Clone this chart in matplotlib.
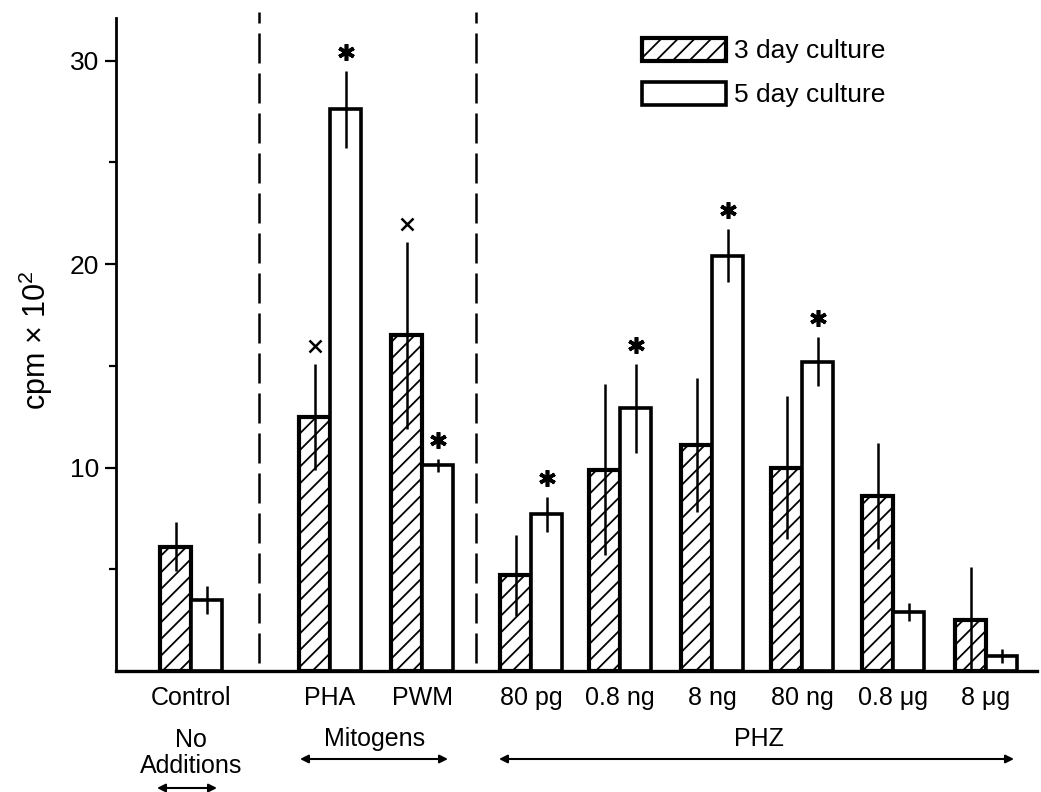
import matplotlib
matplotlib.use("Agg")
import matplotlib.pyplot as plt
from matplotlib.transforms import ScaledTranslation

plt.rcParams['font.family'] = ['Liberation Sans', 'DejaVu Sans']
plt.rcParams['hatch.linewidth'] = 1.3

# --- data (cpm x 10^2) ---
conditions = ["Control", "PHA", "PWM", "80 pg", "0.8 ng", "8 ng", "80 ng", "0.8 μg", "8 μg"]
day3_mean = [6.1, 12.5, 16.5, 4.7, 9.9, 11.1, 10.0, 8.6, 2.5]
day3_err = [1.2, 2.6, 4.6, 2.0, 4.2, 3.3, 3.5, 2.6, 2.6]
day5_mean = [3.5, 27.6, 10.1, 7.7, 12.9, 20.4, 15.2, 2.9, 0.75]
day5_err = [0.7, 1.9, 0.3, 0.85, 2.2, 1.3, 1.2, 0.45, 0.35]
day3_marks = ["", "x", "x", "", "", "", "", "", ""]
day5_marks = ["", "*", "*", "*", "*", "*", "*", "", ""]

# --- layout (pixel-like x units) ---
group_x = [191, 330, 422, 531, 620, 712, 802, 893, 986]
bar_w = 31
divider_x = [259, 476]

fig = plt.figure(figsize=(10.41, 7.92), dpi=100)
ax = fig.add_axes([116 / 1041, 121 / 792, 921 / 1041, 653 / 792])
ax.set_xlim(116, 1037)
ax.set_ylim(0, 653 / 20.35)

x3 = [g - bar_w / 2 for g in group_x]
x5 = [g + bar_w / 2 for g in group_x]

b3 = ax.bar(x3, day3_mean, width=bar_w, facecolor='white', edgecolor='black',
            linewidth=3.0, hatch='//', label='3 day culture', zorder=2)
b5 = ax.bar(x5, day5_mean, width=bar_w, facecolor='white', edgecolor='black',
            linewidth=2.6, label='5 day culture', zorder=2)

# error bars: plain vertical lines, no caps
for xs, m, e in [(x3, day3_mean, day3_err), (x5, day5_mean, day5_err)]:
    for xi, mi, ei in zip(xs, m, e):
        ax.plot([xi, xi], [max(mi - ei, 0), mi + ei], color='black', lw=1.8,
                solid_capstyle='butt', zorder=3)

# significance markers, a fixed distance above the error bar
def mark(xs, m, e, marks):
    for xi, mi, ei, s in zip(xs, m, e, marks):
        if s == "*":
            ax.plot(xi, mi + ei, marker=(6, 2, 0), ms=12, mew=2.6, color='black',
                    transform=ax.transData + ScaledTranslation(0, 0.19, fig.dpi_scale_trans),
                    clip_on=False, zorder=4)
        elif s == "x":
            ax.plot(xi, mi + ei, marker='x', ms=8, mew=1.8, color='black',
                    transform=ax.transData + ScaledTranslation(0, 0.18, fig.dpi_scale_trans),
                    clip_on=False, zorder=4)

mark(x3, day3_mean, day3_err, day3_marks)
mark(x5, day5_mean, day5_err, day5_marks)

# dashed separators
for dx in divider_x:
    ax.plot([dx, dx], [0.4, 32.4], color='black', lw=1.8, dashes=(12, 4),
            clip_on=False, zorder=1)

# axes styling
for side in ['top', 'right']:
    ax.spines[side].set_visible(False)
ax.spines['left'].set_linewidth(2.0)
ax.spines['bottom'].set_linewidth(2.4)
ax.set_yticks([10, 20, 30])
ax.set_yticks([5, 15, 25], minor=True)
ax.tick_params(axis='y', which='major', length=8, width=1.6, labelsize=19, pad=4)
ax.tick_params(axis='y', which='minor', length=5, width=1.6)
ax.set_xticks(group_x)
ax.set_xticklabels(conditions, fontsize=18)
ax.tick_params(axis='x', length=0, pad=11)

ax.set_ylabel("cpm × 10$^\\mathregular{2}$", fontsize=22)
ax.yaxis.set_label_coords(-0.066, 0.507)

# group labels and arrows below the axis
tr = ax.get_xaxis_transform()
def yf(py):
    return (671 - py) / 653

ax.text(191, yf(753), "No\nAdditions", transform=tr, ha='center', va='center',
        fontsize=18, linespacing=1.1, clip_on=False)
ax.text(375, yf(739), "Mitogens", transform=tr, ha='center', va='center', fontsize=18)
ax.text(759, yf(739), "PHZ", transform=tr, ha='center', va='center', fontsize=18)
for x0, x1, py in [(300, 448, 759), (499, 1014, 759), (157, 217, 788)]:
    ax.annotate("", xy=(x0, yf(py)), xytext=(x1, yf(py)), xycoords=tr, textcoords=tr,
                arrowprops=dict(arrowstyle='<|-|>', color='black', lw=1.5,
                                mutation_scale=12, shrinkA=0, shrinkB=0),
                annotation_clip=False)

leg = ax.legend(handles=[b3, b5], loc='upper left', bbox_to_anchor=(642 / 1041, 1 - 38 / 792),
                bbox_transform=fig.transFigure, frameon=False, fontsize=19,
                handlelength=3.2, handleheight=0.95, handletextpad=0.3,
                labelspacing=0.7, borderpad=0, borderaxespad=0)

fig.savefig("out.png", dpi=100)
